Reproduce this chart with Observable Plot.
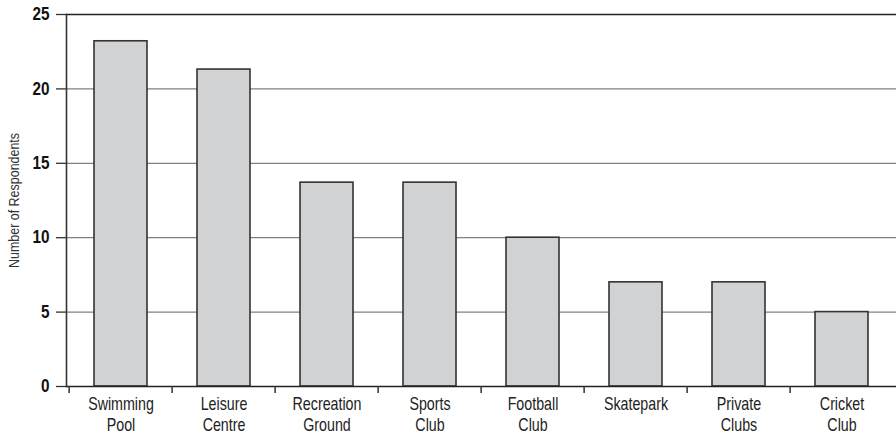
<!DOCTYPE html>
<html><head><meta charset="utf-8">
<script src="https://cdn.jsdelivr.net/npm/d3@7"></script>
<script src="https://cdn.jsdelivr.net/npm/@observablehq/plot@0.6"></script>
<style>
html,body{margin:0;padding:0;background:#fff;}
</style>
</head><body>
<div id="chart"></div>
<script>
const categories = ["Swimming Pool","Leisure Centre","Recreation Ground","Sports Club","Football Club","Skatepark","Private Clubs","Cricket Club"];
const tickLabels = ["Swimming\nPool","Leisure\nCentre","Recreation\nGround","Sports\nClub","Football\nClub","Skatepark","Private\nClubs","Cricket\nClub"];
const respondents = [23.2, 21.3, 13.7, 13.7, 10, 7, 7, 5];
const yTicks = [0, 5, 10, 15, 20, 25];
const gridValues = [5, 10, 15, 20];

const data = categories.map((c, i) => ({category: c, value: respondents[i]}));
const W = 896, H = 437, mL = 66, mR = 0, mT = 14, mB = 51;
const step = (W - mL - mR) / categories.length;
const font = "'Liberation Sans', Arial, sans-serif";

const chart = Plot.plot({
  width: W, height: H,
  marginLeft: mL, marginRight: mR, marginTop: mT, marginBottom: mB,
  style: {fontFamily: font, background: "#fff", overflow: "visible"},
  x: {domain: categories, paddingInner: 0.49, paddingOuter: 0.245, align: 0.5, label: null},
  y: {domain: [0, 25], label: null},
  marks: [
    Plot.ruleY(gridValues, {stroke: "#808080", strokeWidth: 1.2}),
    Plot.ruleY([25], {stroke: "#222", strokeWidth: 1.3}),
    Plot.barY(data, {x: "category", y: "value", fill: "#d1d2d4", stroke: "#333", strokeWidth: 1.6}),
    Plot.ruleY([0], {stroke: "#222", strokeWidth: 1.5}),
    Plot.frame({anchor: "left", stroke: "#333", strokeWidth: 1.6}),
    Plot.axisY({ticks: yTicks, tickSize: 10, tickPadding: 7, fontSize: 18, fontWeight: "bold", stroke: "#333", strokeWidth: 1.3, fill: "#111", label: null, className: "ylab"}),
    Plot.text(["Number of Respondents"], {frameAnchor: "left", rotate: -90, dx: -52, fontSize: 14.5, fill: "#333", textAnchor: "middle", className: "ytitle"}),
    Plot.ruleX(categories, {x: d => d, y1: 0, y2: 0, insetBottom: -7, dx: -step / 2, stroke: "#333", strokeWidth: 1.5}),
    Plot.axisX({tickSize: 0, tickPadding: 9, fontSize: 19, fill: "#222", tickFormat: d => tickLabels[categories.indexOf(d)], lineHeight: 1.1, className: "xlab"})
  ]
});
document.getElementById("chart").appendChild(chart);

// condensed look: compress glyphs horizontally about each label's anchor
function squeeze(sel, sx) {
  chart.querySelectorAll(sel).forEach(t => {
    const tr = t.getAttribute("transform") || "";
    t.setAttribute("transform", tr + ` scale(${sx},1)`);
  });
}
squeeze(".xlab text", 0.75);
squeeze(".ylab text", 0.85);
squeeze(".ytitle text", 0.86);
</script>
</body></html>
